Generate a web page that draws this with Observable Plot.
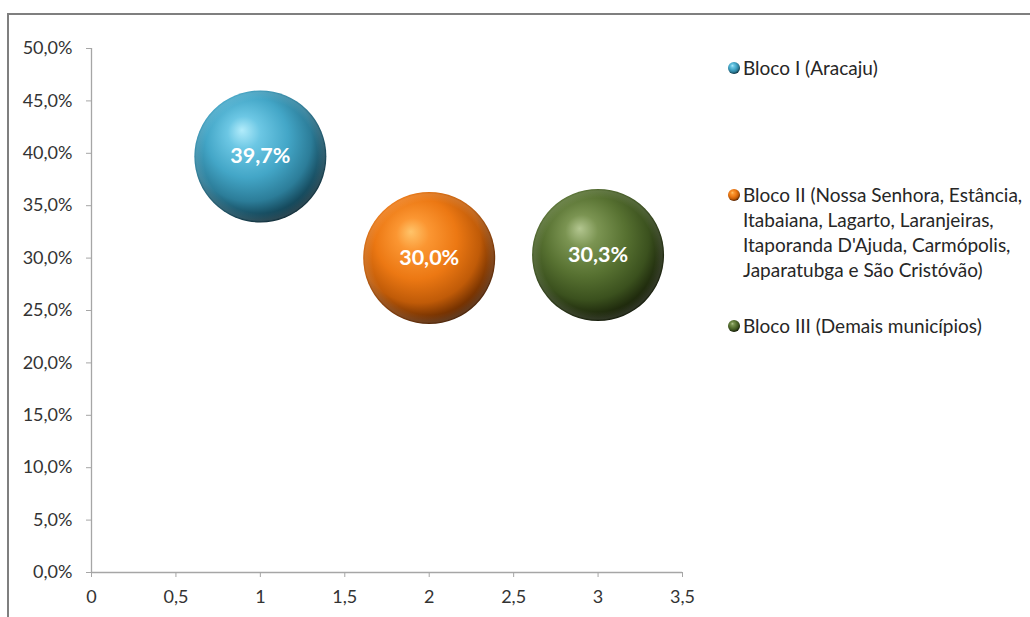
<!DOCTYPE html>
<html><head><meta charset="utf-8">
<script src="https://cdn.jsdelivr.net/npm/d3@7"></script>
<script src="https://cdn.jsdelivr.net/npm/@observablehq/plot@0.6"></script>
<style>
body{margin:0;background:#fff;overflow:hidden;font-family:Lato,sans-serif}
#wrap{position:relative;width:1030px;height:617px;overflow:hidden;background:#fff}
#frame{position:absolute;left:7px;top:13px;width:1100px;height:700px;border:2px solid #7f7f7f;box-sizing:border-box}
#chart{position:absolute;left:0;top:0}
.leg{position:absolute;left:743px;font-size:19px;color:#262626;line-height:25px;white-space:nowrap}
.mk{position:absolute;left:727px}
</style></head><body>
<svg width="0" height="0" style="position:absolute">
<defs>
<radialGradient id="g0" cx="44%" cy="40%" r="62%" fx="36%" fy="30%">
<stop offset="0" stop-color="#b2ecfb"/><stop offset="0.2" stop-color="#6cc7e4"/><stop offset="0.5" stop-color="#43a6c7"/><stop offset="0.75" stop-color="#2c7d99"/><stop offset="0.92" stop-color="#134456"/><stop offset="1" stop-color="#0a2530"/>
</radialGradient>
<radialGradient id="g1" cx="44%" cy="40%" r="62%" fx="36%" fy="30%">
<stop offset="0" stop-color="#ffc46a"/><stop offset="0.2" stop-color="#fb9632"/><stop offset="0.5" stop-color="#ec7813"/><stop offset="0.75" stop-color="#c05b08"/><stop offset="0.92" stop-color="#6e2e00"/><stop offset="1" stop-color="#401a00"/>
</radialGradient>
<radialGradient id="g2" cx="44%" cy="40%" r="62%" fx="36%" fy="30%">
<stop offset="0" stop-color="#b3c690"/><stop offset="0.2" stop-color="#7b9452"/><stop offset="0.5" stop-color="#577131"/><stop offset="0.75" stop-color="#3b511e"/><stop offset="0.92" stop-color="#1c260b"/><stop offset="1" stop-color="#0e1405"/>
</radialGradient>
<radialGradient id="rim" cx="50%" cy="50%" r="50%" fx="50%" fy="50%">
<stop offset="0.86" stop-color="#ffffff" stop-opacity="0"/><stop offset="0.97" stop-color="#ffffff" stop-opacity="0.12"/><stop offset="1" stop-color="#ffffff" stop-opacity="0"/>
</radialGradient>
</defs></svg>
<div id="wrap"><div id="frame"></div><div id="chart"></div><div id="legend"></div></div>
<script>
const blocos = ["Bloco I (Aracaju)", "Bloco II (Nossa Senhora, Estância, Itabaiana, Lagarto, Laranjeiras, Itaporanda D'Ajuda, Carmópolis, Japaratubga e São Cristóvão)", "Bloco III (Demais municípios)"];
const legendLines = [
  ["Bloco I (Aracaju)"],
  ["Bloco II (Nossa Senhora, Estância,", "Itabaiana, Lagarto, Laranjeiras,", "Itaporanda D'Ajuda, Carmópolis,", "Japaratubga e São Cristóvão)"],
  ["Bloco III (Demais municípios)"]
];
const xValues = [1, 2, 3];
const yValues = [39.7, 30.0, 30.3];
const valueLabels = ["39,7%", "30,0%", "30,3%"];
const gradients = ["url(#g0)", "url(#g1)", "url(#g2)"];
const yTicks = [0, 5, 10, 15, 20, 25, 30, 35, 40, 45, 50];
const xTicks = [0, 0.5, 1, 1.5, 2, 2.5, 3, 3.5];

const data = blocos.map((b, i) => ({bloco: b, x: xValues[i], y: yValues[i], label: valueLabels[i], fill: gradients[i]}));
const fmtY = d => d.toFixed(1).replace(".", ",") + "%";
const fmtX = d => String(d).replace(".", ",");

const plot = Plot.plot({
  width: 1030, height: 617,
  marginLeft: 91, marginRight: 348, marginTop: 48, marginBottom: 45,
  style: {fontFamily: "Lato, sans-serif", fontSize: "18px", background: "transparent"},
  x: {domain: [0, 3.5], label: null},
  y: {domain: [0, 50], label: null},
  marks: [
    Plot.ruleY([0], {stroke: "#a6a6a6", strokeWidth: 1.3}),
    Plot.ruleX([0], {stroke: "#a6a6a6", strokeWidth: 1.3}),
    Plot.axisY({ticks: yTicks, tickSize: 5, tickPadding: 14, tickFormat: fmtY, stroke: "#a6a6a6", fill: "#333", fontSize: 18, label: null}),
    Plot.axisX({ticks: xTicks, tickSize: 5, tickPadding: 13, tickFormat: fmtX, stroke: "#a6a6a6", fill: "#333", fontSize: 18, label: null}),
    ...data.map(d => Plot.dot([d], {x: "x", y: "y", r: 66, fill: d.fill, stroke: "none"})),
    Plot.dot(data, {x: "x", y: "y", r: 66, fill: "url(#rim)", stroke: "none"}),
    Plot.text(data, {x: "x", y: "y", text: "label", fill: "white", fontSize: 21.5, fontWeight: "bold"})
  ]
});
document.getElementById("chart").appendChild(plot);

const legendTops = [55, 182, 313];
const leg = document.getElementById("legend");
legendLines.forEach((lines, i) => {
  const div = document.createElement("div");
  div.className = "leg";
  div.style.top = legendTops[i] + "px";
  div.innerHTML = lines.map(l => l.replace(/&/g, "&amp;")).join("<br>");
  leg.appendChild(div);
  const mk = document.createElementNS("http://www.w3.org/2000/svg", "svg");
  mk.setAttribute("class", "mk");
  mk.setAttribute("width", 14); mk.setAttribute("height", 14);
  mk.style.top = (legendTops[i] + 6) + "px";
  mk.innerHTML = `<circle cx="7" cy="7" r="6" fill="${gradients[i]}"/>`;
  leg.appendChild(mk);
});
</script>
</body></html>
